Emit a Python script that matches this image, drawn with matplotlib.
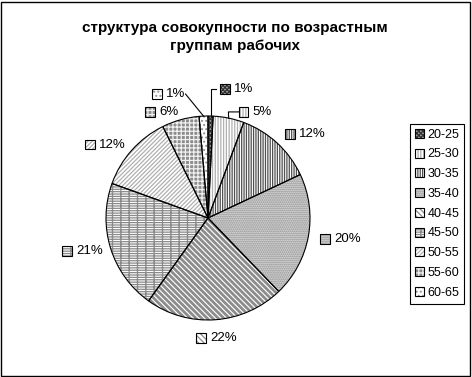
import numpy as np
import matplotlib
matplotlib.use("Agg")
import matplotlib.pyplot as plt
from matplotlib.patches import Rectangle
from matplotlib.offsetbox import DrawingArea, TextArea, HPacker, AnnotationBbox

plt.rcParams['font.family'] = ['Liberation Sans', 'DejaVu Sans']
plt.rcParams['hatch.linewidth'] = 0.9

# данные: доли возрастных групп, %
groups = ['20-25', '25-30', '30-35', '35-40', '40-45', '45-50', '50-55', '55-60', '60-65']
shares = [0.8, 4.9, 12.3, 19.8, 22.1, 20.6, 12.2, 5.9, 1.4]
pct_labels = ['1%', '5%', '12%', '20%', '22%', '21%', '12%', '6%', '1%']

# стиль заливки (фон, цвет штриховки, штриховка, толщина) - под шаблоны Excel
faces = ['#a0a0a0', 'white', 'white', '#dadada', 'white', 'white', 'white', '#8c8c8c', 'white']
hatch_colors = ['#303030', '#b0b0b0', '#505050', '#8a8a8a', '#8c8c8c', '#8a8a8a', '#b0b0b0', '#f0f0f0', '#909090']
hatches = ['xxxxxxxx', '||||||', '|||||||', '........', '\\' * 6, '-------||', '/' * 8, '++++', '....']
hatch_lw = [0.9, 0.9, 0.9, 0.9, 2.0, 0.9, 0.9, 0.9, 0.9]

# подписи мелких секторов, вынесенные с линиями-выносками
manual_pos = {0: (0.12, 1.265), 1: (0.30, 1.04), 8: (-0.55, 1.215)}

fig = plt.figure(figsize=(4.72, 3.77), dpi=100)
ax = fig.add_axes([(208 - 102) / 472, (159 - 102) / 377, 204 / 472, 204 / 377])

wedges, _ = ax.pie(shares, startangle=90, counterclock=False,
                   wedgeprops=dict(linewidth=0))
for w, fc, hc, h, hl in zip(wedges, faces, hatch_colors, hatches, hatch_lw):
    w.set_facecolor(fc)
    w.set_edgecolor(hc)
    w.set_hatch(h)
    if hasattr(w, 'set_hatch_linewidth'):
        w.set_hatch_linewidth(hl)
outline, _ = ax.pie(shares, startangle=90, counterclock=False,
                    wedgeprops=dict(fill=False, edgecolor='black', linewidth=0.8))
ax.set_xlim(-1, 1)
ax.set_ylim(-1, 1)
ax.set_aspect('equal')
ax.axis('off')


def key_box(i, size=7):
    da = DrawingArea(size, size, 0, 0)
    da.add_artist(Rectangle((0, 0), size, size, facecolor=faces[i],
                            edgecolor=hatch_colors[i], hatch=hatches[i], linewidth=0))
    da.add_artist(Rectangle((0, 0), size, size, fill=False, edgecolor='black', linewidth=0.8))
    return da


cum = np.cumsum([0] + shares)
for i, lab in enumerate(pct_labels):
    mid = (cum[i] + cum[i + 1]) / 2 / 100 * 2 * np.pi
    dx, dy = np.sin(mid), np.cos(mid)
    box = HPacker(children=[key_box(i), TextArea(lab, textprops=dict(fontsize=9.5))],
                  align='center', pad=0, sep=3)
    if i in manual_pos:
        xy = manual_pos[i]
        align = (0, 0.5)
        # выноска
        lx, ly = xy
        if i == 0:
            ax.plot([lx - 0.04, dx, dx], [ly, ly, dy], color='black', lw=0.8, clip_on=False)
        elif i == 1:
            ax.plot([lx + 0.08, lx - 0.1, dx], [ly, ly, dy], color='black', lw=0.8, clip_on=False)
        else:
            ax.plot([lx + 0.33, dx], [ly, dy], color='black', lw=0.8, clip_on=False)
    else:
        r = 1.12 if dx > 0 else 1.08
        xy = (r * dx, r * dy)
        if abs(dx) < 0.2:
            align = (0.5, 1.0 if dy < 0 else 0.0)
        elif dx > 0:
            align = (0, 0.5)
        else:
            align = (1, 0.5)
    ab = AnnotationBbox(box, xy, box_alignment=align, frameon=False, pad=0,
                        xycoords='data', annotation_clip=False)
    ax.add_artist(ab)

# легенда
handles = [(Rectangle((0, 0), 1, 1, facecolor=faces[i], edgecolor=hatch_colors[i],
                      hatch=hatches[i], linewidth=0),
            Rectangle((0, 0), 1, 1, fill=False, edgecolor='black', linewidth=0.8))
           for i in range(len(groups))]
leg = fig.legend(handles, groups, loc='upper left', bbox_to_anchor=(410 / 472, 1 - 124 / 377),
                 bbox_transform=fig.transFigure, fontsize=9, frameon=True, fancybox=False,
                 edgecolor='black', framealpha=1, handlelength=0.75, handleheight=0.75,
                 handletextpad=0.25, labelspacing=0.62, borderpad=0.38, borderaxespad=0)
leg.get_frame().set_linewidth(0.8)

fig.text(0.498, 1 - 37 / 377, 'структура совокупности по возрастным\nгруппам рабочих',
         ha='center', va='center', fontsize=11, fontweight='bold', linespacing=1.45)

fig.patches.append(Rectangle((0.002, 0.003), 0.994, 0.993, transform=fig.transFigure,
                             fill=False, edgecolor='black', linewidth=1))

fig.savefig('out.png', dpi=100)
